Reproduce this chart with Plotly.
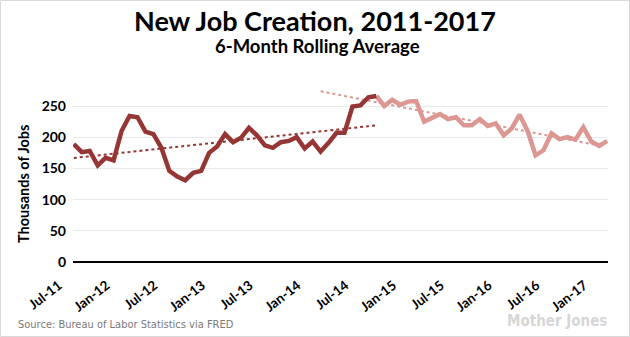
import plotly.graph_objects as go
import numpy as np

# ---------------- data ----------------
TICK_LABELS = ["Jul-11", "Jan-12", "Jul-12", "Jan-13", "Jul-13", "Jan-14",
               "Jul-14", "Jan-15", "Jul-15", "Jan-16", "Jul-16", "Jan-17"]
TICK_INDEX = [0, 6, 12, 18, 24, 30, 36, 42, 48, 54, 60, 66]  # month index (Jul-11 = 0)

# 6-month rolling average, thousands of jobs, Jul-11 .. Sep-14
early_values = [189, 176, 178, 155, 167, 163, 210, 234, 232, 209, 205, 183,
                146, 137, 131, 143, 146, 175, 185, 205, 192, 199, 215, 203,
                187, 183, 192, 194, 200, 182, 193, 177, 191, 207, 207, 249,
                251, 264, 266]
# Sep-14 .. Feb-17
late_values = [266, 250, 260, 252, 257, 258, 225, 232, 237, 229, 232, 219,
               219, 229, 218, 222, 203, 214, 236, 210, 171, 179, 206, 197,
               200, 196, 216, 193, 186, 194]

early_x = list(range(len(early_values)))
late_start = len(early_values) - 1
late_x = list(range(late_start, late_start + len(late_values)))

# trend line extents (month index)
early_trend_span = (0, 38)
late_trend_span = (31, 65.5)

DARK = "#963634"
LIGHT = "#dc9793"

# ---------------- layout geometry ----------------
W, H = 630, 337
ML, MR, MT, MB = 73, 22, 86, 75
PW, PH = W - ML - MR, H - MT - MB
Y_MAX = PH / 0.624


def px_x(px):
    return (px - ML) / PW


def px_y(py):
    return (H - MB - py) / PH


# trends (least squares on the plotted series)
ce = np.polyfit(early_x, early_values, 1)
cl = np.polyfit(late_x, late_values, 1)
etx = np.array(early_trend_span, dtype=float)
ltx = np.array(late_trend_span, dtype=float)

fig = go.Figure()
fig.add_trace(go.Scatter(x=etx, y=np.polyval(ce, etx), mode="lines",
                         line=dict(color=DARK, width=2, dash="dot"),
                         hoverinfo="skip", showlegend=False))
fig.add_trace(go.Scatter(x=ltx, y=np.polyval(cl, ltx), mode="lines",
                         line=dict(color=LIGHT, width=2, dash="dot"),
                         hoverinfo="skip", showlegend=False))
fig.add_trace(go.Scatter(x=late_x, y=late_values, mode="lines",
                         line=dict(color=LIGHT, width=4.5),
                         showlegend=False))
fig.add_trace(go.Scatter(x=early_x, y=early_values, mode="lines",
                         line=dict(color=DARK, width=4.5),
                         showlegend=False))

TXT = "Lato, 'Open Sans', Arial, sans-serif"
NARROW = "'Liberation Sans Narrow', 'DejaVu Sans Condensed', Arial, sans-serif"

fig.update_layout(
    width=W, height=H,
    margin=dict(l=ML, r=MR, t=MT, b=MB),
    paper_bgcolor="white", plot_bgcolor="white",
    showlegend=False,
    xaxis=dict(range=[-0.1, late_x[-1] + 0.1], tickmode="array",
               tickvals=TICK_INDEX, ticktext=TICK_LABELS,
               tickangle=-38, showgrid=False, zeroline=False,
               showline=False, ticks="",
               tickfont=dict(family=TXT, size=13.5, color="black", weight="bold"),
               ticklabelshift=-15, ticklabelstandoff=12),
    yaxis=dict(range=[0, Y_MAX], tickvals=[0, 50, 100, 150, 200, 250],
               showgrid=True, gridcolor="#e9e9e9", gridwidth=1,
               zeroline=True, zerolinecolor="black", zerolinewidth=1.5,
               showline=False, ticks="",
               tickfont=dict(family=TXT, size=14, color="black", weight="bold"),
               ticklabelstandoff=6),
)

ann = []
ann.append(dict(text="New Job Creation, 2011-2017", x=px_x(315), y=px_y(20),
                xref="paper", yref="paper", xanchor="center", yanchor="middle",
                showarrow=False,
                font=dict(family=TXT, size=27, color="black", weight="bold")))
ann.append(dict(text="6-Month Rolling Average", x=px_x(317), y=px_y(46),
                xref="paper", yref="paper", xanchor="center", yanchor="middle",
                showarrow=False,
                font=dict(family=TXT, size=18.5, color="black", weight="bold")))
ann.append(dict(text="Thousands of Jobs", x=px_x(23), y=px_y(184),
                xref="paper", yref="paper", xanchor="center", yanchor="middle",
                textangle=-90, showarrow=False,
                font=dict(family=TXT, size=14.5, color="black", weight="bold")))
ann.append(dict(text="Source: Bureau of Labor Statistics via FRED",
                x=px_x(16), y=px_y(324), xref="paper", yref="paper",
                xanchor="left", yanchor="middle", showarrow=False,
                font=dict(family=NARROW, size=11, color="#7a7a7a")))
ann.append(dict(text="Mother Jones", x=px_x(609), y=px_y(321),
                xref="paper", yref="paper", xanchor="right", yanchor="middle",
                showarrow=False,
                font=dict(family=NARROW, size=15, color="#d6d6d6", weight="bold")))
fig.update_layout(annotations=ann)

# frame around the whole picture
fig.add_shape(type="rect", xref="paper", yref="paper",
              x0=px_x(0.5), x1=px_x(629.5), y0=px_y(336.5), y1=px_y(0.5),
              line=dict(color="#d9d9d9", width=1), layer="below")

fig.write_html("out.html")
